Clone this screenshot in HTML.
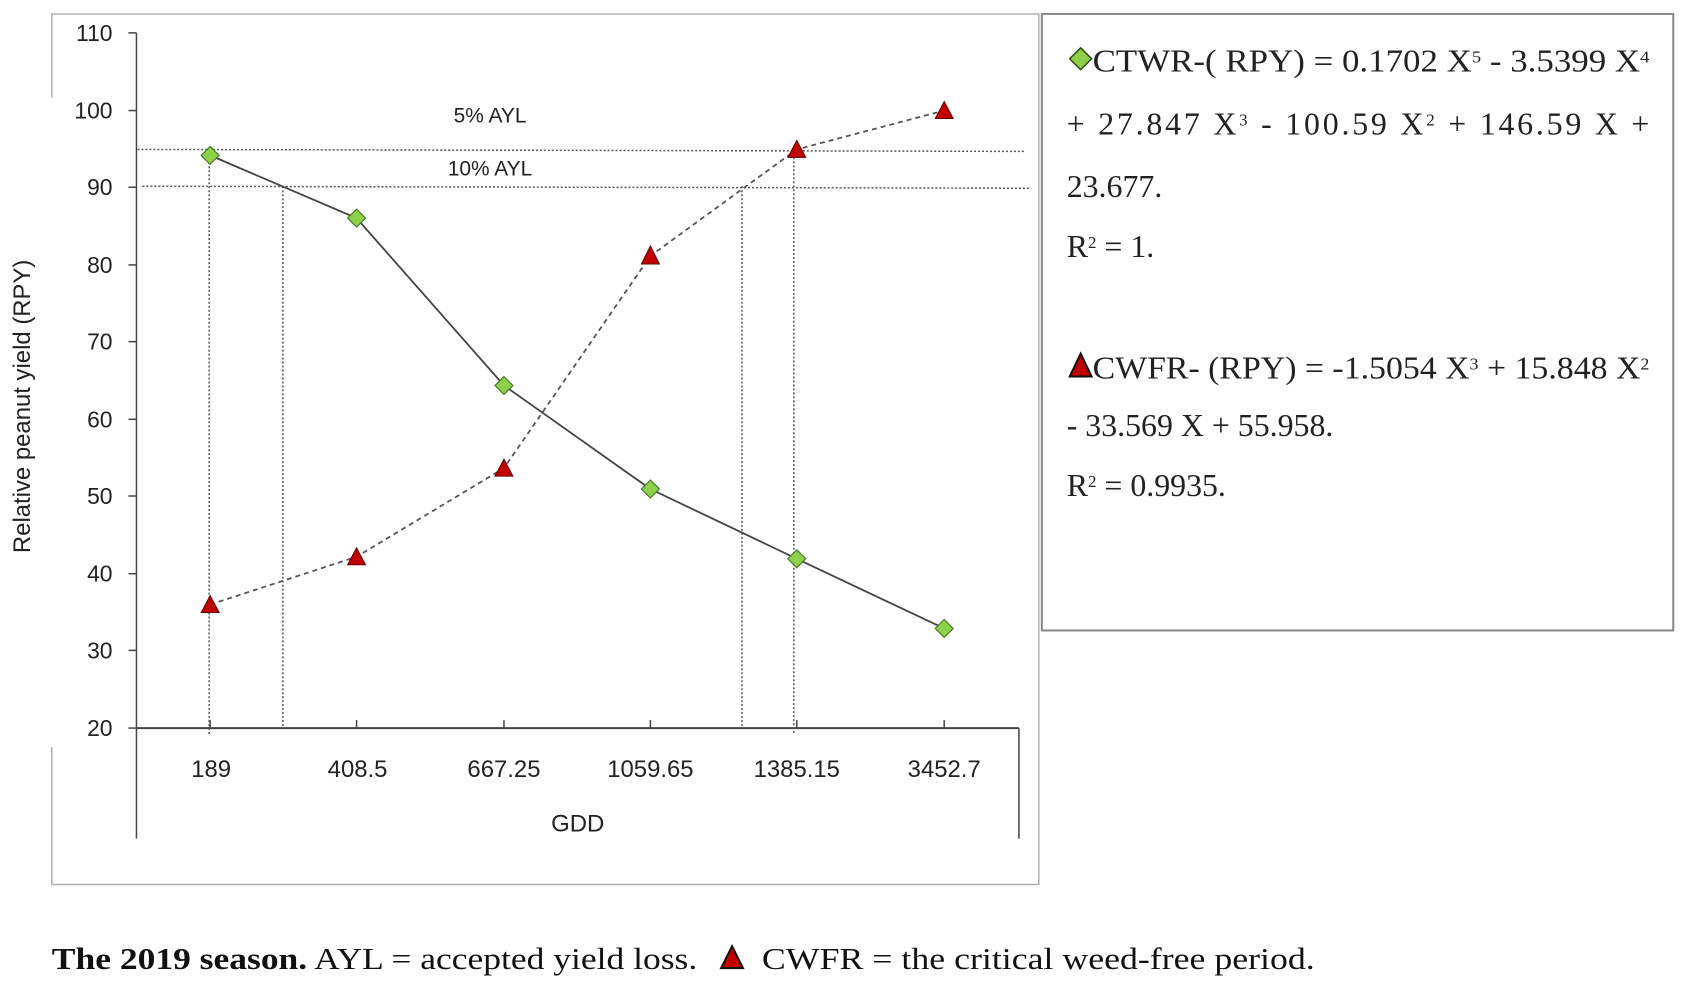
<!DOCTYPE html>
<html><head><meta charset="utf-8"><style>
html,body{margin:0;padding:0;background:#fff;}
svg{display:block;}
</style></head><body>
<svg width="1685" height="984" viewBox="0 0 1685 984" xmlns="http://www.w3.org/2000/svg">
<g transform="scale(0.996)">
<g stroke="#b0b0b0" stroke-width="1.5" fill="none">
<polyline points="52,98 52,14 1043,14 1043,888 52,888 52,750"/>
</g>
<rect x="1046" y="14" width="634" height="619" fill="none" stroke="#888" stroke-width="2"/>

<g stroke="#444" stroke-width="1.5" fill="none">
<line x1="137" y1="33" x2="137" y2="842"/>
<line x1="137" y1="731" x2="1023" y2="731" stroke-width="2"/>
<line x1="1023" y1="731" x2="1023" y2="842"/>
<line x1="129" y1="33" x2="137" y2="33"/>
<line x1="129" y1="111" x2="137" y2="111"/>
<line x1="129" y1="188" x2="137" y2="188"/>
<line x1="129" y1="266" x2="137" y2="266"/>
<line x1="129" y1="343" x2="137" y2="343"/>
<line x1="129" y1="421" x2="137" y2="421"/>
<line x1="129" y1="498" x2="137" y2="498"/>
<line x1="129" y1="576" x2="137" y2="576"/>
<line x1="129" y1="653" x2="137" y2="653"/>
<line x1="129" y1="731" x2="137" y2="731"/>
<line x1="211" y1="723" x2="211" y2="731"/>
<line x1="358" y1="723" x2="358" y2="731"/>
<line x1="506" y1="723" x2="506" y2="731"/>
<line x1="653" y1="723" x2="653" y2="731"/>
<line x1="800" y1="723" x2="800" y2="731"/>
<line x1="948" y1="723" x2="948" y2="731"/>
</g>
<g font-family="Liberation Sans, sans-serif" font-size="23" fill="#222" text-anchor="end">
<text x="113" y="41">110</text>
<text x="113" y="119">100</text>
<text x="113" y="196">90</text>
<text x="113" y="274">80</text>
<text x="113" y="351">70</text>
<text x="113" y="429">60</text>
<text x="113" y="506">50</text>
<text x="113" y="584">40</text>
<text x="113" y="661">30</text>
<text x="113" y="739">20</text>
</g>
<g font-family="Liberation Sans, sans-serif" font-size="24" fill="#222" text-anchor="middle">
<text x="212" y="780">189</text>
<text x="359" y="780">408.5</text>
<text x="506" y="780">667.25</text>
<text x="653" y="780">1059.65</text>
<text x="800" y="780">1385.15</text>
<text x="948" y="780">3452.7</text>
<text x="580" y="835">GDD</text>
<text transform="translate(30,408) rotate(-90)">Relative peanut yield (RPY)</text>
<text x="492" y="123" font-size="21">5% AYL</text>
<text x="492" y="176" font-size="21">10% AYL</text>
</g>

<g stroke="#555" stroke-width="1.5" stroke-dasharray="2,2" fill="none">
<line x1="138" y1="150" x2="1028" y2="152"/>
<line x1="143" y1="187" x2="1033" y2="189"/>
<line x1="210" y1="155" x2="210" y2="738"/>
<line x1="284" y1="187" x2="284" y2="731"/>
<line x1="745" y1="187" x2="745" y2="731"/>
<line x1="797" y1="150" x2="797" y2="738"/>
</g>

<polyline points="211,156 358,219 506,387 653,491 800,561 948,631" fill="none" stroke="#444" stroke-width="1.8"/>
<polyline points="211,607 358,559 506,470 653,257 800,150 948,111" fill="none" stroke="#555" stroke-width="1.8" stroke-dasharray="5,4"/>

<g fill="#8dd04a" stroke="#4b7a2a" stroke-width="1.2">
<polygon points="211,147 220,156 211,165 202,156"/>
<polygon points="358,210 367,219 358,228 349,219"/>
<polygon points="506,378 515,387 506,396 497,387"/>
<polygon points="653,482 662,491 653,500 644,491"/>
<polygon points="800,552 809,561 800,570 791,561"/>
<polygon points="948,622 957,631 948,640 939,631"/>
</g>
<g fill="#c00000" stroke="#600" stroke-width="1">
<polygon points="211,598 220,615 202,615"/>
<polygon points="358,550 367,567 349,567"/>
<polygon points="506,461 515,478 497,478"/>
<polygon points="653,247 662,265 644,265"/>
<polygon points="800,141 809,158 791,158"/>
<polygon points="948,102 957,119 939,119"/>
</g>

<polygon points="1085,48 1096,59 1085,70 1074,59" fill="#8dd04a" stroke="#2a4a10" stroke-width="1.5"/>
<polygon points="1085,355 1096,378 1074,378" fill="#c00000" stroke="#111" stroke-width="2"/>
<g font-family="Liberation Serif, serif" font-size="32" fill="#222">
<text x="1097" y="72" textLength="559" lengthAdjust="spacingAndGlyphs">CTWR-( RPY) = 0.1702 X<tspan font-size="17" dy="-9">5</tspan><tspan dy="9"> - 3.5399 X</tspan><tspan font-size="17" dy="-9">4</tspan></text>
<text x="1071" y="135" textLength="585" lengthAdjust="spacing">+  27.847  X<tspan font-size="17" dy="-9">3</tspan><tspan dy="9">  -  100.59  X</tspan><tspan font-size="17" dy="-9">2</tspan><tspan dy="9">  +  146.59  X  +</tspan></text>
<text x="1071" y="198">23.677.</text>
<text x="1071" y="258">R<tspan font-size="17" dy="-9">2</tspan><tspan dy="9"> = 1.</tspan></text>
<text x="1097" y="380" textLength="559" lengthAdjust="spacingAndGlyphs">CWFR- (RPY) = -1.5054 X<tspan font-size="17" dy="-9">3</tspan><tspan dy="9"> + 15.848 X</tspan><tspan font-size="17" dy="-9">2</tspan></text>
<text x="1071" y="438">- 33.569 X + 55.958.</text>
<text x="1071" y="498">R<tspan font-size="17" dy="-9">2</tspan><tspan dy="9"> = 0.9935.</tspan></text>
</g>

<g font-family="Liberation Serif, serif" font-size="31" fill="#111">
<text x="52" y="973" textLength="648" lengthAdjust="spacingAndGlyphs"><tspan font-weight="bold">The 2019 season.</tspan> AYL = accepted yield loss.</text>
<polygon points="735,950 746,972 724,972" fill="#c00000" stroke="#111" stroke-width="2"/>
<text x="765" y="973" textLength="555" lengthAdjust="spacingAndGlyphs">CWFR = the critical weed-free period.</text>
</g>
</g>
</svg>
</body></html>
